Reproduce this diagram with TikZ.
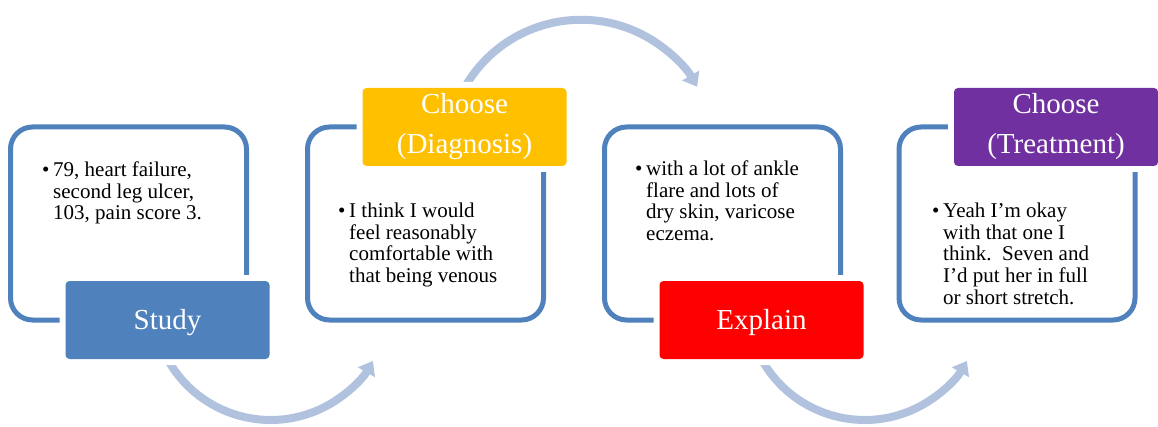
\documentclass[tikz,border=0pt]{standalone}
\usepackage{fontspec}
\setmainfont{Liberation Serif}
\usetikzlibrary{arrows.meta,backgrounds,positioning}
\definecolor{FlowBlue}{HTML}{4F81BD}
\definecolor{FlowGold}{HTML}{FFC000}
\definecolor{FlowRed}{HTML}{FF0000}
\definecolor{FlowPurple}{HTML}{7030A0}
\definecolor{FlowArc}{HTML}{B0C2DE}
\newcommand{\flowitem}[1]{%
  \makebox[11pt][l]{\textbullet}\begin{tabular}[t]{@{}l@{}}#1\end{tabular}}
\newcommand{\tagstrut}{\rule{0pt}{26pt}}
\tikzset{
  flow/frame/.style={
    draw=FlowBlue, line width=5pt, rounded corners=22pt, outer sep=0pt,
    minimum width=236pt, minimum height=193pt
  },
  flow/tag/.style={
    preaction={draw=white, line width=12pt}, rounded corners=4pt,
    minimum width=204pt, minimum height=78pt, inner sep=0pt,
    align=center, execute at begin node=\tagstrut,
    text=white, font=\fontsize{29}{40}\selectfont
  },
  flow/text/.style={
    anchor=north west, inner sep=0pt, font=\fontsize{21}{21.7}\selectfont
  },
  flow/arc/.style={
    -{Triangle[length=13pt,width=19pt]}, line width=8pt, draw=FlowArc
  }
}
\begin{document}
\begin{tikzpicture}[x=1pt,y=1pt]
  \useasboundingbox (0,0) rectangle (1158,426);
  \node[flow/frame] (f1) at (128.5,202.5) {};
  \node[flow/frame] (f2) at (425.5,202.5) {};
  \node[flow/frame] (f3) at (722.5,202.5) {};
  \node[flow/frame] (f4) at (1017,202.5) {};
  % tags sit on the frame edges
  \node[flow/tag,fill=FlowBlue] (study) at ([xshift=39pt]f1.south) {Study};
  \node[flow/tag,fill=FlowGold] (diag) at ([xshift=39pt]f2.north) {Choose\\(Diagnosis)};
  \node[flow/tag,fill=FlowRed] (explain) at ([xshift=39pt]f3.south) {Explain};
  \node[flow/tag,fill=FlowPurple] (treat) at ([xshift=39pt]f4.north) {Choose\\(Treatment)};
  \node[flow/text] (t1) at ([xshift=31.5pt,yshift=-34pt]f1.north west)
    {\flowitem{79, heart failure,\\second leg ulcer,\\103, pain score 3.}};
  \node[flow/text] (t2) at ([xshift=30.5pt,yshift=-75pt]f2.north west)
    {\flowitem{I think I would\\feel reasonably\\comfortable with\\that being venous}};
  \node[flow/text] (t3) at ([xshift=30.5pt,yshift=-33pt]f3.north west)
    {\flowitem{with a lot of ankle\\flare and lots of\\dry skin, varicose\\eczema.}};
  \node[flow/text] (t4) at ([xshift=33pt,yshift=-75pt]f4.north west)
    {\flowitem{Yeah I’m okay\\with that one I\\think.\ \ Seven and\\I’d put her in full\\or short stretch.}};
  \begin{scope}[on background layer]
    \draw[flow/arc] (study.south) arc[start angle=209, end angle=330, radius=118];
    \draw[flow/arc] (diag.north) arc[start angle=150.5, end angle=30, radius=134];
    \draw[flow/arc] (explain.south) arc[start angle=209, end angle=330, radius=118];
  \end{scope}
\end{tikzpicture}
\end{document}
